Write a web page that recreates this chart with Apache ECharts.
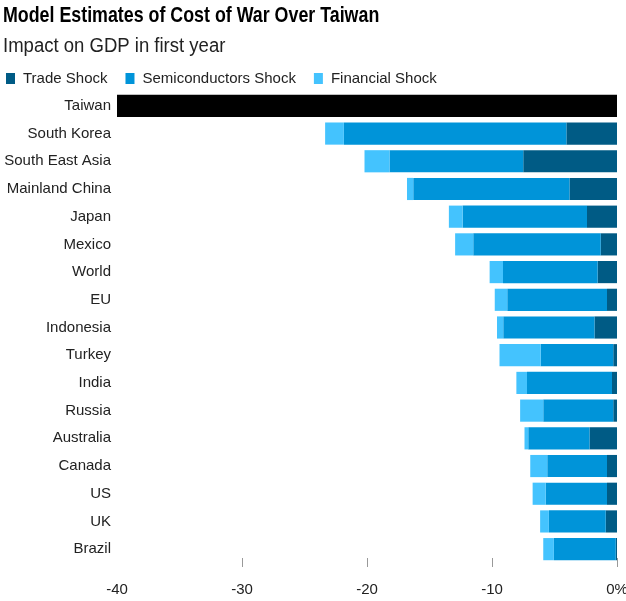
<!DOCTYPE html>
<html>
<head>
<meta charset="utf-8">
<script src="https://cdn.jsdelivr.net/npm/echarts@6/dist/echarts.min.js"></script>
<style>
  html, body { margin: 0; padding: 0; background: #fff; }
  #chart { width: 626px; height: 601px; }
</style>
</head>
<body>
<div id="chart"></div>
<script>
// categories, top to bottom
const regions = ["Taiwan", "South Korea", "South East Asia", "Mainland China", "Japan", "Mexico",
  "World", "EU", "Indonesia", "Turkey", "India", "Russia", "Australia", "Canada", "US", "UK", "Brazil"];

// % of GDP, first year (Taiwan shown as a single total)
const taiwanTotal = [-40, null, null, null, null, null, null, null, null, null, null, null, null, null, null, null, null];
const tradeShock = [null, -4.05, -7.5, -3.8, -2.4, -1.3, -1.55, -0.8, -1.8, -0.3, -0.4, -0.3, -2.2, -0.8, -0.8, -0.9, -0.1];
const semiShock = [null, -17.8, -10.7, -12.5, -9.95, -10.2, -7.57, -7.98, -7.3, -5.8, -6.8, -5.6, -4.9, -4.78, -4.9, -4.55, -4.95];
const financialShock = [null, -1.5, -2.0, -0.5, -1.1, -1.45, -1.07, -1.0, -0.5, -3.3, -0.85, -1.85, -0.3, -1.36, -1.05, -0.7, -0.85];

const xTicks = [-30, -20, -10, 0];
const xLabels = [-40, -30, -20, -10, 0];

const chart = echarts.init(document.getElementById("chart"));

const font = "'Liberation Sans', Arial, sans-serif";

const option = {
  animation: false,
  // title and subtitle drawn as graphic text so they can be squeezed like the narrow original face
  graphic: [
    {
      type: "text",
      x: 3,
      y: 16,
      scaleX: 0.81,
      style: {
        text: "Model Estimates of Cost of War Over Taiwan",
        fontFamily: font,
        fontWeight: "bold",
        fontSize: 22,
        fill: "#000",
        verticalAlign: "middle",
      },
    },
    {
      type: "text",
      x: 3,
      y: 47,
      scaleX: 0.95,
      style: {
        text: "Impact on GDP in first year",
        fontFamily: font,
        fontSize: 19.5,
        fill: "#222",
        verticalAlign: "middle",
      },
    },
  ],
  legend: {
    data: ["Trade Shock", "Semiconductors Shock", "Financial Shock"],
    left: 6,
    top: 71,
    padding: 0,
    icon: "rect",
    itemWidth: 9,
    itemHeight: 11,
    itemGap: 18,
    textStyle: { fontFamily: font, fontSize: 15, color: "#222", padding: [0, 0, 0, 3] },
  },
  grid: { left: 117, right: 9, top: 92, bottom: 38, outerBoundsMode: "none" },
  xAxis: {
    type: "value",
    min: -40,
    max: 0,
    interval: 10,
    offset: -5,
    splitLine: { show: false },
    axisLine: { show: false },
    axisTick: { show: true, length: 9, customValues: xTicks, lineStyle: { color: "#999" } },
    axisLabel: {
      customValues: xLabels,
      margin: 24,
      fontFamily: font,
      fontSize: 15,
      color: "#222",
      formatter: (v) => (v === 0 ? "0%" : String(v)),
    },
  },
  yAxis: {
    type: "category",
    inverse: true,
    data: regions,
    axisLine: { show: false },
    axisTick: { show: false },
    axisLabel: { fontFamily: font, fontSize: 15, color: "#222", margin: 6 },
  },
  series: [
    {
      name: "Taiwan",
      type: "bar",
      stack: "total",
      barWidth: "80%",
      data: taiwanTotal,
      itemStyle: { color: "#000" },
    },
    {
      name: "Trade Shock",
      type: "bar",
      stack: "total",
      barWidth: "80%",
      data: tradeShock,
      itemStyle: { color: "#005b85" },
    },
    {
      name: "Semiconductors Shock",
      type: "bar",
      stack: "total",
      barWidth: "80%",
      data: semiShock,
      itemStyle: { color: "#0094d9" },
    },
    {
      name: "Financial Shock",
      type: "bar",
      stack: "total",
      barWidth: "80%",
      data: financialShock,
      itemStyle: { color: "#44c3fe" },
    },
  ],
};

chart.setOption(option);
</script>
</body>
</html>
